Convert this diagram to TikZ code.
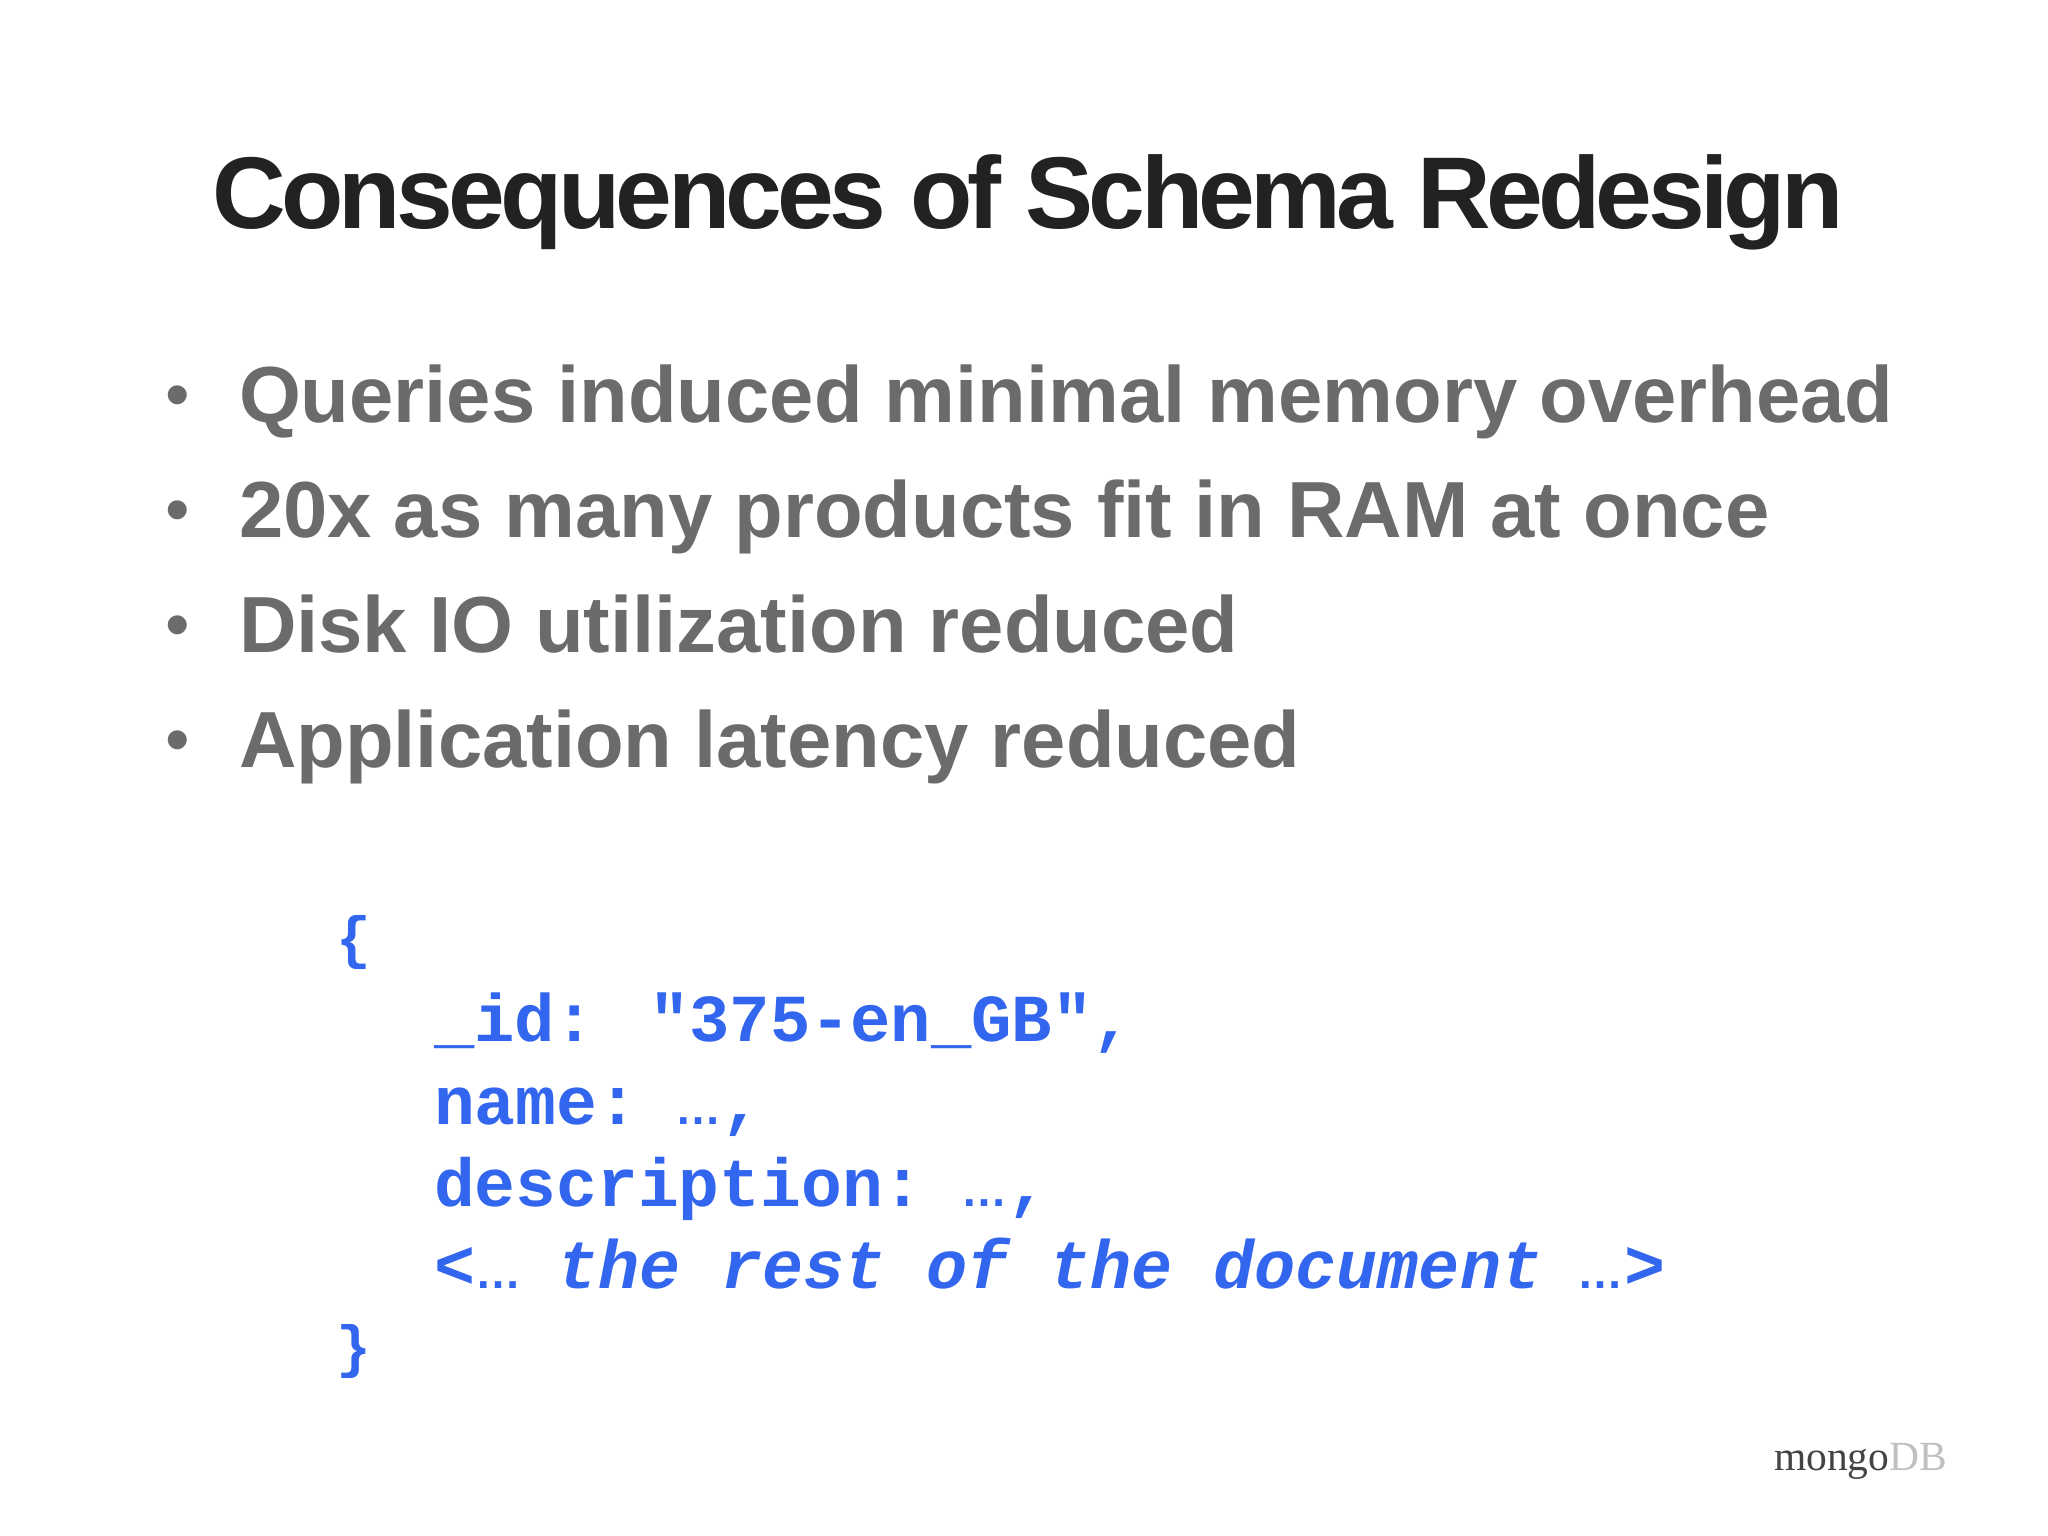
\documentclass[tikz,border=0pt]{standalone}
\usepackage{fontspec}
\setmainfont{Liberation Sans}
\newfontfamily\titlefont[LetterSpace=-4.55]{Liberation Sans Bold}
\newfontfamily\bulletfont{Liberation Sans Bold}
\newfontfamily\codefont{Liberation Mono}
\newfontfamily\logofont{Liberation Serif}
\definecolor{titlegray}{HTML}{222222}
\definecolor{bulletgray}{HTML}{6B6B6B}
\definecolor{codeblue}{HTML}{3366EE}
\definecolor{logodark}{HTML}{444444}
\definecolor{logolight}{HTML}{C0C0C4}
\newcommand{\codedots}{\makebox[0.6em][l]{\fontsize{46pt}{46pt}\selectfont\upshape\rmfamily …}}

\begin{document}
\begin{tikzpicture} [x=1pt, y=-1pt, every node/.style = {inner sep=0pt, outer sep=0pt, anchor=base west},
slidetitle/.style = {text=titlegray, font=\titlefont\fontsize{102pt}{102pt}\selectfont},
point/.style = {text=bulletgray, font=\bulletfont\fontsize{79.6pt}{79.6pt}\selectfont},
pointdot/.style = {text=bulletgray, font=\rmfamily\fontsize{70pt}{70pt}\selectfont},
codeline/.style = {text=codeblue, font=\codefont\bfseries\fontsize{68pt}{68pt}\selectfont},
idline/.style = {codeline, font=\codefont\bfseries\fontsize{67.2pt}{67.2pt}\selectfont},
restline/.style = {codeline, font=\codefont\bfseries\itshape\fontsize{68.4pt}{68.4pt}\selectfont},
brace/.style = {codeline, font=\codefont\bfseries\fontsize{58pt}{58pt}\selectfont},
logo/.style = {font=\logofont\fontsize{41.5pt}{41.5pt}\selectfont}]
\fill [white] (0,0) rectangle (2048,1536);
\useasboundingbox (0,0) rectangle (2048,1536);
\node (title) [slidetitle] at (212,228) {Consequences of Schema Redesign};
% bullets
\node (dot1) [pointdot] at (165,418) {•};
\node (dot2) [pointdot] at (165,533) {•};
\node (dot3) [pointdot] at (165,648) {•};
\node (dot4) [pointdot] at (165,763) {•};
\node (queries) [point] at (239,422) {Queries induced minimal memory overhead};
\node (products) [point] at (239,537) {20x as many products fit in RAM at once};
\node (disk) [point] at (239,652) {Disk IO utilization reduced};
\node (latency) [point] at (239,767) {Application latency reduced};
% document
\node (open) [brace] at (336,957) {\{};
\node (id) [idline] at (434,1041) {\_id: "375-en\_GB",};
\node (name) [codeline] at (434,1124) {name: \kern-.25em\codedots\kern.08em,};
\node (description) [codeline] at (434,1206) {description: \kern-.25em\codedots\kern.08em,};
\node (rest) [restline] at (434,1288) {<\codedots\ the rest of the document \kern-.08em\codedots\kern.08em>};
\node (close) [brace] at (336,1366) {\}};
\node (mongo) [logo, text=logodark] at (1774,1470) {mongo};
\node (db) [logo, text=logolight] at (mongo.base east) {DB};
\end{tikzpicture}
\end{document}
